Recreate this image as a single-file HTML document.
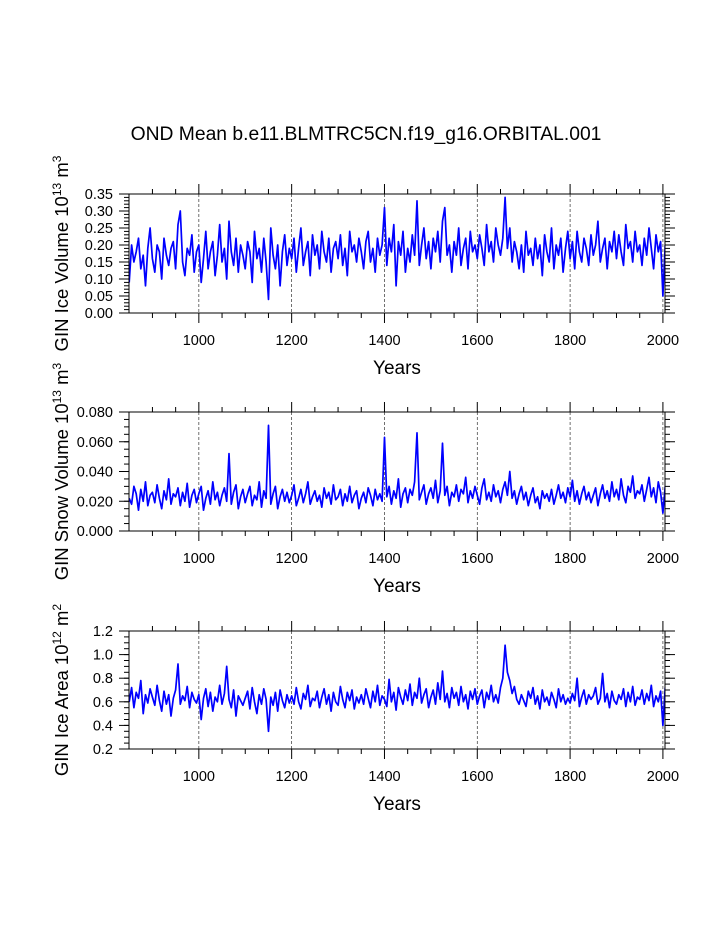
<!DOCTYPE html>
<html><head><meta charset="utf-8"><style>
body{margin:0;background:#fff}
svg{display:block;font-family:"Liberation Sans",Arial,sans-serif}
</style></head><body>
<svg id="chart" width="723" height="935" viewBox="0 0 723 935">
<text x="366" y="140" font-size="19.3" text-anchor="middle">OND Mean b.e11.BLMTRC5CN.f19_g16.ORBITAL.001</text>
</svg>
<script>
const years0 = 850, yearStep = 5;
const iceVolume = [.09,.20,.15,.18,.22,.13,.17,.08,.19,.25,.16,.12,.20,.18,.10,.22,.17,.14,.19,.21,.13,.26,.30,.15,.11,.19,.17,.23,.12,.18,.20,.09,.16,.24,.13,.18,.21,.11,.17,.26,.15,.19,.10,.27,.18,.14,.22,.12,.20,.17,.13,.21,.18,.09,.24,.16,.19,.12,.22,.15,.04,.25,.17,.13,.20,.08,.18,.23,.14,.19,.16,.22,.12,.19,.25,.14,.18,.21,.11,.23,.17,.20,.13,.24,.18,.15,.22,.12,.19,.21,.16,.23,.14,.19,.11,.24,.18,.20,.15,.22,.18,.13,.21,.24,.15,.19,.12,.22,.17,.20,.31,.14,.22,.18,.26,.08,.21,.17,.24,.12,.19,.15,.23,.17,.33,.14,.20,.25,.16,.21,.13,.22,.18,.24,.15,.27,.31,.17,.20,.12,.21,.17,.25,.14,.19,.22,.13,.24,.18,.20,.16,.23,.19,.14,.26,.18,.21,.15,.25,.20,.17,.22,.34,.19,.25,.15,.21,.18,.13,.20,.12,.24,.17,.19,.14,.22,.16,.20,.11,.23,.18,.15,.25,.13,.20,.17,.22,.12,.19,.24,.16,.21,.13,.24,.18,.15,.22,.19,.14,.23,.17,.20,.27,.15,.19,.22,.13,.21,.18,.24,.16,.23,.18,.14,.26,.19,.21,.15,.24,.18,.20,.14,.22,.17,.25,.19,.13,.23,.18,.21,.05,.20];
const snowVolume = [22,18,30,25,14,28,20,33,17,24,26,19,31,22,15,27,21,35,18,25,23,29,17,26,20,32,16,24,28,19,25,30,14,22,27,18,33,21,26,17,24,29,20,52,18,26,31,15,23,28,19,25,30,17,24,21,33,16,27,22,71,18,25,30,15,23,28,20,26,19,24,31,17,22,28,19,25,33,18,23,27,20,24,16,29,22,26,18,31,21,23,28,17,25,20,30,19,24,27,15,22,26,19,29,24,17,28,21,25,20,63,23,30,18,27,22,35,16,25,29,19,28,24,33,66,21,26,31,18,25,29,22,34,19,27,59,24,30,17,26,23,31,20,28,25,36,19,27,22,30,24,18,29,35,21,26,20,31,23,27,19,28,33,24,40,22,27,18,25,30,21,26,17,24,29,19,23,15,27,22,25,20,28,18,24,31,22,26,19,29,23,34,20,27,18,25,30,21,26,19,24,29,17,25,31,22,27,20,33,23,28,21,35,24,19,30,26,37,22,27,25,31,20,28,36,23,29,19,33,26,12,30].map(v=>v/1000);
const iceArea = [60,72,55,68,63,78,50,66,59,71,64,57,74,61,52,69,58,66,48,63,70,92,58,65,61,73,55,68,62,59,66,45,63,71,56,68,52,64,60,74,58,67,90,62,55,70,48,65,61,57,63,69,54,72,60,50,66,58,71,62,35,64,57,68,52,70,61,55,66,59,65,58,72,60,54,67,62,74,56,63,61,69,55,64,71,58,66,52,68,60,57,73,62,55,68,61,70,54,64,59,66,58,71,63,55,69,60,74,57,65,62,56,79,60,68,53,72,64,58,70,61,75,57,68,63,80,59,66,71,55,64,70,58,76,62,86,60,67,55,72,63,68,57,73,60,66,54,69,62,71,58,65,70,55,68,62,74,60,66,59,72,80,108,85,78,67,73,62,58,66,61,56,69,63,72,58,65,54,70,60,64,57,68,62,55,71,60,66,58,63,59,67,61,80,56,64,70,58,66,62,65,72,58,63,84,60,67,55,69,61,58,66,62,71,56,68,60,73,57,64,62,70,58,67,61,74,56,65,60,69,40,72].map(v=>v/100);
const xTickLabels = ["1000","1200","1400","1600","1800","2000"];
const p1Ticks = ["0.00","0.05","0.10","0.15","0.20","0.25","0.30","0.35"];
const p2Ticks = ["0.000","0.020","0.040","0.060","0.080"];
const p3Ticks = ["0.2","0.4","0.6","0.8","1.0","1.2"];

const NS="http://www.w3.org/2000/svg", svg=document.getElementById('chart');
const X0=129,X1=665,YR0=849.5,YR1=2004.5;
const xs=y=>X0+(y-YR0)/(YR1-YR0)*(X1-X0);
function el(t,a,p){const e=document.createElementNS(NS,t);for(const k in a)e.setAttribute(k,a[k]);(p||svg).appendChild(e);return e;}

function panel(name,top,bot,ymin,ymax,ticks,minorStep,data,label,sup,unit,usup){
  const g=el('g',{});
  
  
  const ys=v=>bot-(v-ymin)/(ymax-ymin)*(bot-top);
  xTickLabels.forEach(t=>{const x=xs(+t);
    const l=el('line',{x1:x,x2:x,y1:top,y2:bot,stroke:'#333','stroke-width':0.7,'stroke-dasharray':'3,2'},g);
    });
  const clip=el('clipPath',{id:name+'clip'},g);el('rect',{x:X0,y:top,width:X1-X0,height:bot-top},clip);
  const pts=data.map((v,i)=>xs(years0+i*yearStep).toFixed(1)+','+ys(v).toFixed(1)).join(' ');
  const pl=el('polyline',{points:pts,fill:'none',stroke:'#0000ff','stroke-width':1.7,'stroke-linejoin':'round','clip-path':'url(#'+name+'clip)'},g);
  
  const fr=el('rect',{x:X0,y:top,width:X1-X0,height:bot-top,fill:'none',stroke:'#000','stroke-width':1},g);
  
  xTickLabels.forEach(t=>{const x=xs(+t);
    el('line',{x1:x,x2:x,y1:bot,y2:bot+10,stroke:'#000'},g);
    el('line',{x1:x,x2:x,y1:top,y2:top-10,stroke:'#000'},g);
    const tx=el('text',{x:x,y:bot+32,'font-size':14.5,'text-anchor':'middle'},g);tx.textContent=t;
    });
  for(let y=900;y<=2000;y+=50){if(y%200==0)continue;const x=xs(y);
    el('line',{x1:x,x2:x,y1:bot,y2:bot+5,stroke:'#000'},g);el('line',{x1:x,x2:x,y1:top,y2:top-5,stroke:'#000'},g);}
  ticks.forEach(t=>{const y=ys(+t);
    el('line',{x1:X0,x2:X0-10,y1:y,y2:y,stroke:'#000'},g);el('line',{x1:X1,x2:X1+10,y1:y,y2:y,stroke:'#000'},g);
    const tx=el('text',{x:X0-16,y:y+5,'font-size':14.5,'text-anchor':'end'},g);tx.textContent=t;
    });
  for(let v=ymin;v<=ymax+1e-9;v+=minorStep){const y=ys(v);
    el('line',{x1:X0,x2:X0-5,y1:y,y2:y,stroke:'#000'},g);el('line',{x1:X1,x2:X1+5,y1:y,y2:y,stroke:'#000'},g);}
  const xt=el('text',{x:397,y:bot+61,'font-size':19,'text-anchor':'middle'},g);xt.textContent='Years';
  
  const cy=(top+bot)/2;
  const yt=el('text',{x:0,y:0,'font-size':18.5,'text-anchor':'middle',transform:`translate(68,${cy}) rotate(-90)`},g);
  
  yt.appendChild(document.createTextNode(label+' 10'));
  let s=el('tspan',{dy:-7,'font-size':12},yt);s.textContent=sup;
  s=el('tspan',{dy:7},yt);s.textContent=' '+unit;
  s=el('tspan',{dy:-7,'font-size':12},yt);s.textContent=usup;
}
panel('ice-volume',194,313,0,0.35,p1Ticks,0.01,iceVolume,'GIN Ice Volume','13','m','3');
panel('snow-volume',412,531,0,0.08,p2Ticks,0.005,snowVolume,'GIN Snow Volume','13','m','3');
panel('ice-area',631,749,0.2,1.2,p3Ticks,0.05,iceArea,'GIN Ice Area','12','m','2');
</script>
</body></html>
